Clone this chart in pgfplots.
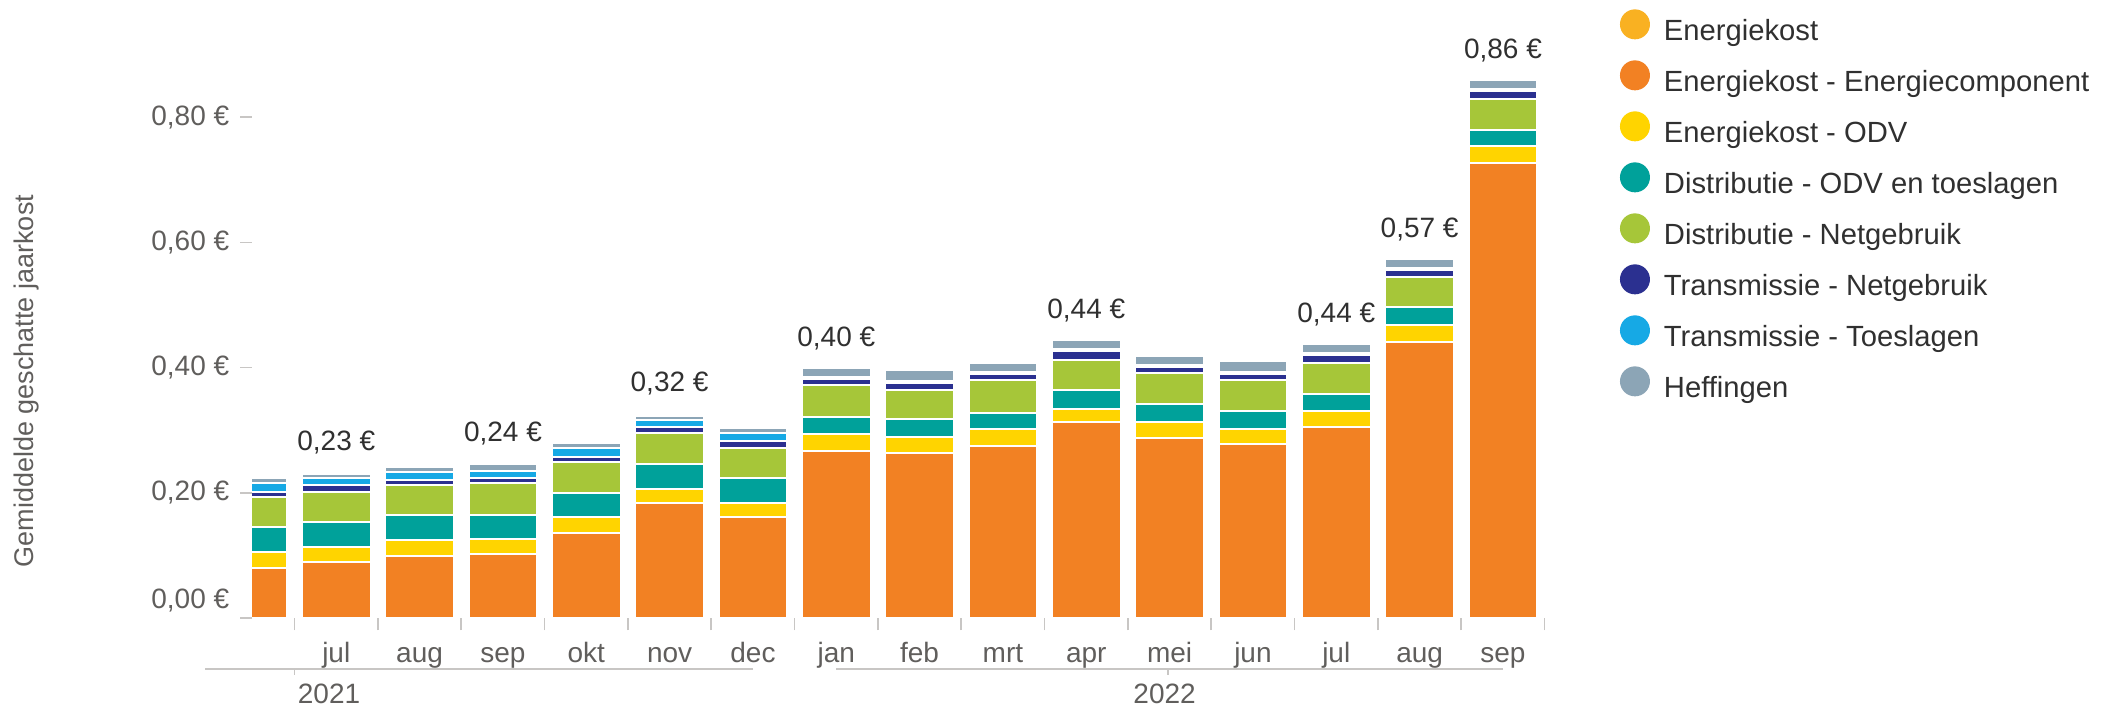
\documentclass[border=0pt]{standalone}
\usepackage{pgfplots}
\pgfplotsset{compat=1.18}
\usepackage{pgfplotstable}
\usepackage{fontspec}
\setmainfont{Liberation Sans}
\definecolor{cEK}{HTML}{F9B122}
\definecolor{cEC}{HTML}{F28123}
\definecolor{cODV}{HTML}{FFD400}
\definecolor{cDODV}{HTML}{00A19A}
\definecolor{cDN}{HTML}{A6C639}
\definecolor{cTN}{HTML}{2B3090}
\definecolor{cTT}{HTML}{16A9E5}
\definecolor{cHF}{HTML}{8CA5B6}
\definecolor{txt}{HTML}{605E5C}
\definecolor{dark}{HTML}{303030}
\definecolor{axgrey}{HTML}{C8C6C4}
\newcommand\f{\fontsize{14}{16.8}\selectfont}
\newcommand\fl{\fontsize{14.6}{17.5}\selectfont}
\pgfplotsset{circlegend/.style={legend image code/.code={\path[##1,draw=none] (7.5pt,4.5pt) circle[radius=7.5pt];}}}

\pgfplotstableread{
idx ec odv dodv dn tn tt hf lab
0 0.0798 0.0266 0.0399 0.0477 0.0076 0.0144 0.0074 {}
1 0.0904 0.0240 0.0388 0.0489 0.0106 0.0107 0.0069 {0,23 €}
2 0.0995 0.0255 0.0399 0.0479 0.0079 0.0133 0.0080 {}
3 0.1027 0.0233 0.0389 0.0505 0.0080 0.0122 0.0101 {0,24 €}
4 0.1356 0.0266 0.0383 0.0495 0.0069 0.0144 0.0080 {}
5 0.1835 0.0224 0.0398 0.0495 0.0096 0.0117 0.0069 {0,32 €}
6 0.1622 0.0213 0.0410 0.0468 0.0117 0.0122 0.0090 {}
7 0.2677 0.0268 0.0260 0.0520 0.0101 0.0030 0.0144 {0,40 €}
8 0.2641 0.0246 0.0289 0.0463 0.0115 0.0030 0.0180 {}
9 0.2750 0.0267 0.0260 0.0520 0.0101 0.0030 0.0144 {}
10 0.3125 0.0217 0.0296 0.0485 0.0138 0.0030 0.0157 {0,44 €}
11 0.2872 0.0253 0.0289 0.0506 0.0094 0.0030 0.0144 {}
12 0.2786 0.0231 0.0289 0.0491 0.0101 0.0030 0.0182 {}
13 0.3053 0.0253 0.0274 0.0492 0.0130 0.0030 0.0144 {0,44 €}
14 0.4412 0.0268 0.0289 0.0476 0.0116 0.0030 0.0144 {0,57 €}
15 0.7266 0.0275 0.0246 0.0506 0.0130 0.0030 0.0137 {0,86 €}
}\data

\begin{document}
\begin{tikzpicture}
\useasboundingbox (-126.05pt,-45.85pt) rectangle (925.95pt,309.15pt);
\begin{axis}[
  at={(0,0)}, anchor=south west,
  scale only axis, width=646.25pt, height=297.64pt,
  ybar stacked, bar width=34.3pt,
  xmin=-0.01, xmax=15.5, ymin=0, ymax=0.95,
  clip mode=individual,
  axis line style={draw=none},
  xtick pos=bottom, ytick pos=left,
  tick align=outside, major tick length=6pt,
  tick style={axgrey, line width=0.8pt},
  xtick={0.5,1.5,...,15.5}, xticklabels={},
  extra x ticks={0,1,...,15},
  extra x tick labels={,jul,aug,sep,okt,nov,dec,jan,feb,mrt,apr,mei,jun,jul,aug,sep},
  extra x tick style={major tick length=0pt},
  xticklabel style={font=\f, text=txt, anchor=base, yshift=-22.35pt, inner sep=0pt},
  ytick={0,0.2,0.4,0.6,0.8},
  yticklabels={{\raisebox{20pt}{0,00 €}},{0,20 €},{0,40 €},{0,60 €},{0,80 €}},
  yticklabel style={font=\f, text=txt, anchor=east, inner sep=0pt, xshift=-5.25pt},
  ylabel={Gemiddelde geschatte jaarkost},
  ylabel style={at={(axis description cs:-0.1745,0.3986)}, anchor=center, font=\fontsize{13.5}{16}\selectfont, text=txt},
  legend style={at={(1.0583,1.023)}, anchor=north west, draw=none, fill=none,
    inner sep=0pt, outer sep=0pt, font=\fl, text=dark,
    row sep=7pt, column sep=7pt,
    nodes={inner sep=0pt, text height=10pt, text depth=3pt}},
  legend cell align=left,
  every node near coord/.append style={font=\f, text=dark, inner sep=0pt, anchor=base, yshift=13pt},
]
\addlegendimage{fill=cEK, circlegend}
\addlegendentry{Energiekost}
\addplot[fill=cEC, draw=white, line width=1pt, circlegend] table[x=idx,y=ec]{\data};
\addlegendentry{Energiekost - Energiecomponent}
\addplot[fill=cODV, draw=white, line width=1pt, circlegend] table[x=idx,y=odv]{\data};
\addlegendentry{Energiekost - ODV}
\addplot[fill=cDODV, draw=white, line width=1pt, circlegend] table[x=idx,y=dodv]{\data};
\addlegendentry{Distributie - ODV en toeslagen}
\addplot[fill=cDN, draw=white, line width=1pt, circlegend] table[x=idx,y=dn]{\data};
\addlegendentry{Distributie - Netgebruik}
\addplot[fill=cTN, draw=white, line width=1pt, circlegend] table[x=idx,y=tn]{\data};
\addlegendentry{Transmissie - Netgebruik}
\addplot[fill=cTT, draw=white, line width=1pt, circlegend] table[x=idx,y=tt]{\data};
\addlegendentry{Transmissie - Toeslagen}
\addplot[fill=cHF, draw=white, line width=1pt, circlegend, nodes near coords, point meta=explicit symbolic] table[x=idx,y=hf,meta=lab]{\data};
\addlegendentry{Heffingen}
\draw[axgrey, line width=0.8pt] ([yshift=-25.35pt]axis cs:-0.57,0) -- ([yshift=-25.35pt]axis cs:6.0,0);
\draw[axgrey, line width=0.8pt] ([yshift=-25.35pt]axis cs:7.0,0) -- ([yshift=-25.35pt]axis cs:15.0,0);
\draw[axgrey, line width=0.8pt] ([yshift=-25.35pt]axis cs:0.5,0) -- ([yshift=-28.5pt]axis cs:0.5,0);
\draw[axgrey, line width=0.8pt] ([yshift=-25.35pt]axis cs:10.98,0) -- ([yshift=-28.5pt]axis cs:10.98,0);
\node[font=\f, text=txt, anchor=base, inner sep=0pt] at ([yshift=-42.85pt]axis cs:0.913,0) {2021};
\node[font=\f, text=txt, anchor=base, inner sep=0pt] at ([yshift=-42.85pt]axis cs:10.94,0) {2022};
\end{axis}
\end{tikzpicture}
\end{document}
